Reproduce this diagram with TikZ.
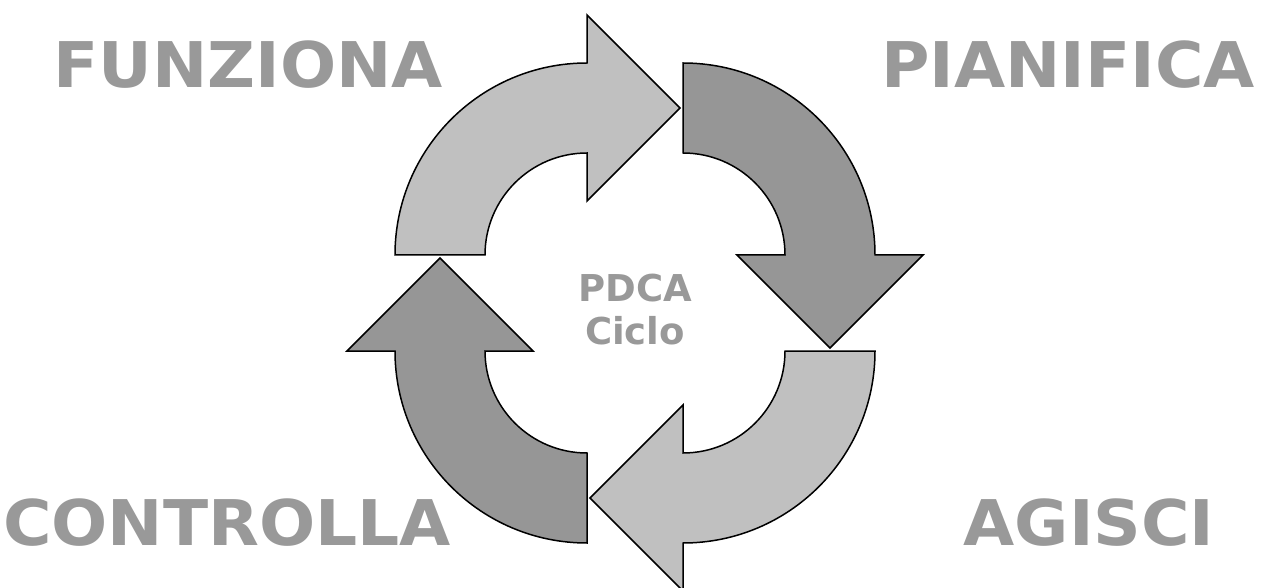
\documentclass[tikz,border=0pt]{standalone}
\usepackage{fontspec}
\setmainfont{DejaVu Sans}
\newfontfamily\widefont[FakeStretch=1.05]{DejaVu Sans}
\definecolor{wordgray}{HTML}{999999}
\definecolor{lightfill}{HTML}{C0C0C0}
\definecolor{darkfill}{HTML}{969696}
\begin{document}
\begin{tikzpicture}[x=1pt, y=1pt,
    lightarrow/.style={draw=black, line width=1.5pt, line join=miter, fill=lightfill},
    darkarrow/.style={draw=black, line width=1.5pt, line join=miter, fill=darkfill},
    bigword/.style={anchor=base, inner sep=0pt, text=wordgray, font=\widefont\fontsize{63}{70}\selectfont\bfseries},
    smallword/.style={anchor=base, inner sep=0pt, text=wordgray, font=\fontsize{37}{43}\selectfont\bfseries}]
    \useasboundingbox (0,0) rectangle (1266,587);
    \coordinate (c) at (635,284);
    % four quarter arrows, turned round the middle
    \foreach \a/\s in {0/lightarrow, -90/darkarrow, -180/lightarrow, -270/darkarrow} {
        \begin{scope}[rotate around={\a:(c)}, shift={(587,332)}]
            \draw[\s] (-192,0) arc[start angle=180, end angle=90, radius=192]
                -- (0,240) -- (93,147) -- (0,54) -- (0,102)
                arc[start angle=90, end angle=180, radius=102] -- cycle;
        \end{scope}
    }
    \node[bigword] (funziona) at (248,499) {FUNZIONA};
    \node[bigword] (pianifica) at (1068,499) {PIANIFICA};
    \node[bigword] (controlla) at (227,42) {CONTROLLA};
    \node[bigword] (agisci) at (1089,42) {AGISCI};
    \node[smallword] (pdca) at (635,285) {PDCA};
    \node[smallword] (ciclo) at (635,242) {Ciclo};
\end{tikzpicture}
\end{document}
